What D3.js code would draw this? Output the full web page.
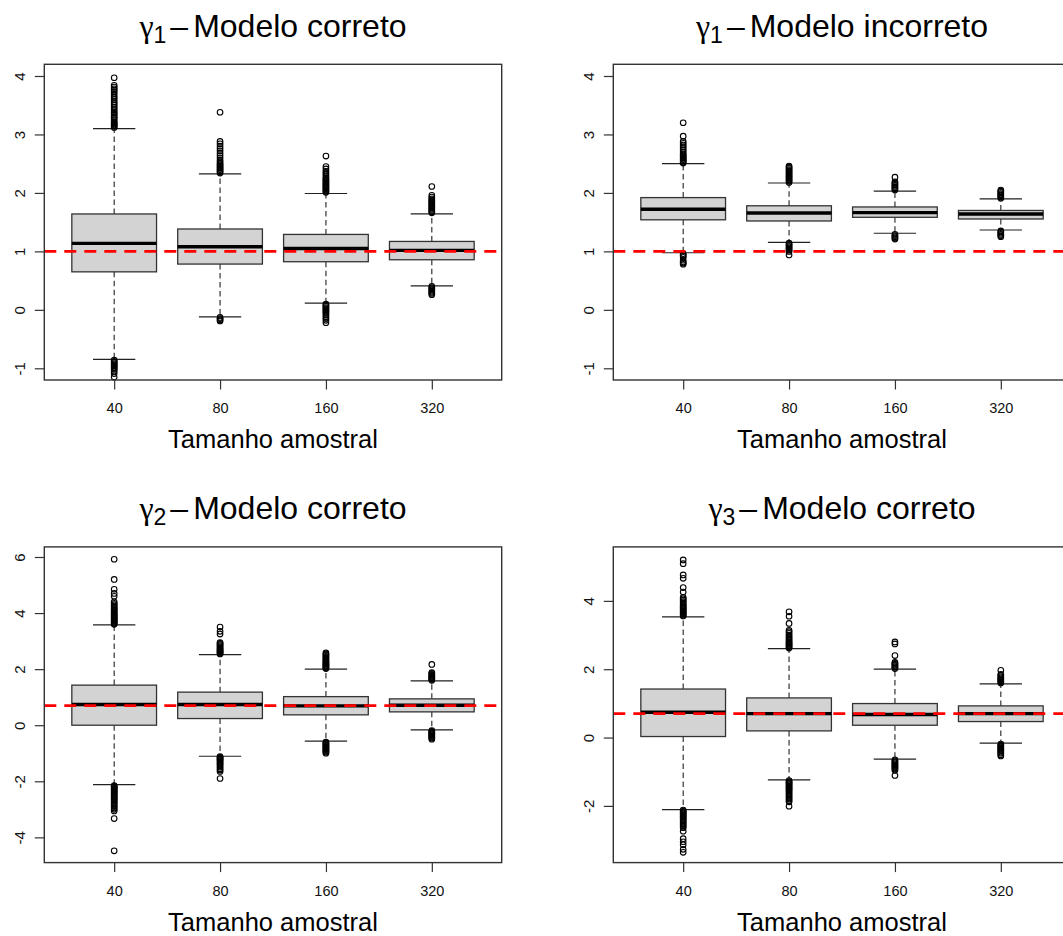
<!DOCTYPE html>
<html>
<head>
<meta charset="utf-8">
<script src="https://cdn.jsdelivr.net/npm/d3@7"></script>
<style>
  html, body { margin: 0; padding: 0; background: #fff; }
  svg { display: block; font-family: "Liberation Sans", Arial, sans-serif; }
</style>
</head>
<body>
<svg id="chart" width="1063" height="936"></svg>
<script>
// Sample sizes on the x axis
const sampleSizes = ["40", "80", "160", "320"];

// Box statistics per sample size: [lower whisker, Q1, median, Q3, upper whisker]
const gamma1CorrectStats = [
  [-0.846, 0.65, 1.137, 1.64, 3.10],
  [-0.12, 0.783, 1.08, 1.383, 2.326],
  [0.114, 0.823, 1.05, 1.29, 1.99],
  [0.41, 0.857, 1.017, 1.17, 1.64]
];
const gamma1CorrectOutliers = [
  [3.12, 3.14, 3.16, 3.18, 3.2, 3.22, 3.25, 3.28, 3.3, 3.33, 3.36, 3.38, 3.41, 3.44, 3.47, 3.5, 3.53, 3.56, 3.6, 3.63, 3.66, 3.7, 3.73, 3.76, 3.78, 3.81, 3.84, 3.97,
   -0.86, -0.88, -0.9, -0.92, -0.94, -0.96, -0.98, -1.0, -1.02, -1.05, -1.09, -1.15],
  [2.34, 2.36, 2.38, 2.4, 2.42, 2.44, 2.46, 2.48, 2.5, 2.53, 2.56, 2.6, 2.64, 2.68, 2.72, 2.76, 2.8, 2.84, 2.88, 3.38,
   -0.13, -0.15, -0.17, -0.19],
  [2.01, 2.03, 2.05, 2.07, 2.09, 2.11, 2.13, 2.15, 2.17, 2.19, 2.21, 2.23, 2.25, 2.28, 2.31, 2.34, 2.37, 2.41, 2.45, 2.63,
   0.1, 0.08, 0.06, 0.04, 0.02, 0.0, -0.02, -0.04, -0.06, -0.09, -0.12, -0.15, -0.18, -0.22],
  [1.66, 1.68, 1.7, 1.72, 1.74, 1.76, 1.78, 1.8, 1.82, 1.84, 1.86, 1.88, 1.9, 1.93, 1.96, 2.11,
   0.4, 0.38, 0.36, 0.34, 0.32, 0.3, 0.28, 0.26]
];

const gamma1WrongStats = [
  [0.977, 1.54, 1.72, 1.92, 2.50],
  [1.154, 1.52, 1.657, 1.78, 2.17],
  [1.31, 1.583, 1.663, 1.76, 2.03],
  [1.366, 1.554, 1.64, 1.70, 1.897]
];
const gamma1WrongOutliers = [
  [2.51, 2.53, 2.55, 2.57, 2.59, 2.61, 2.63, 2.65, 2.67, 2.7, 2.73, 2.76, 2.79, 2.82, 2.85, 2.88, 2.97, 3.2,
   0.96, 0.94, 0.92, 0.9, 0.85, 0.82, 0.8, 0.78],
  [2.18, 2.2, 2.22, 2.24, 2.26, 2.28, 2.3, 2.32, 2.34, 2.36, 2.38, 2.4, 2.42, 2.44, 2.46,
   1.14, 1.12, 1.1, 1.08, 1.06, 1.04, 1.02, 1.0, 0.94],
  [2.05, 2.07, 2.09, 2.11, 2.13, 2.15, 2.17, 2.19, 2.27,
   1.29, 1.27, 1.25, 1.23, 1.21],
  [1.91, 1.93, 1.95, 1.97, 1.99, 2.01, 2.03, 2.05,
   1.35, 1.33, 1.31, 1.29, 1.27, 1.25]
];

const gamma2CorrectStats = [
  [-2.12, 0.0, 0.738, 1.43, 3.58],
  [-1.107, 0.238, 0.738, 1.18, 2.52],
  [-0.57, 0.37, 0.69, 1.02, 2.0],
  [-0.167, 0.476, 0.714, 0.94, 1.58]
];
const gamma2CorrectOutliers = [
  [3.6, 3.63, 3.66, 3.7, 3.73, 3.76, 3.8, 3.83, 3.86, 3.9, 3.93, 3.96, 4.0, 4.04, 4.08, 4.12, 4.16, 4.2, 4.25, 4.3, 4.35, 4.4, 4.6, 4.7, 4.85, 5.2, 5.92,
   -2.15, -2.18, -2.21, -2.25, -2.28, -2.32, -2.35, -2.39, -2.42, -2.46, -2.5, -2.54, -2.58, -2.62, -2.66, -2.7, -2.75, -2.8, -2.85, -2.9, -2.95, -3.0, -3.06, -3.33, -4.48],
  [2.54, 2.57, 2.6, 2.63, 2.66, 2.69, 2.72, 2.76, 2.8, 2.84, 2.88, 2.92, 2.95, 3.25, 3.35, 3.5,
   -1.12, -1.15, -1.18, -1.21, -1.24, -1.28, -1.32, -1.36, -1.4, -1.45, -1.5, -1.55, -1.6, -1.65, -1.9],
  [2.02, 2.05, 2.08, 2.11, 2.14, 2.17, 2.2, 2.23, 2.26, 2.3, 2.34, 2.38, 2.42, 2.46, 2.5, 2.54, 2.58,
   -0.6, -0.63, -0.66, -0.69, -0.72, -0.75, -0.78, -0.81, -0.84, -0.87, -0.9, -0.93, -0.96, -1.0],
  [1.6, 1.63, 1.66, 1.69, 1.72, 1.75, 1.78, 1.81, 1.85, 1.88, 2.17,
   -0.19, -0.22, -0.25, -0.28, -0.31, -0.34, -0.37, -0.4, -0.43, -0.46, -0.5]
];

const gamma3CorrectStats = [
  [-2.107, 0.03, 0.74, 1.42, 3.53],
  [-1.24, 0.195, 0.70, 1.16, 2.6],
  [-0.634, 0.36, 0.673, 0.995, 2.0],
  [-0.166, 0.468, 0.70, 0.927, 1.57]
];
const gamma3CorrectOutliers = [
  [3.56, 3.59, 3.62, 3.65, 3.68, 3.71, 3.74, 3.77, 3.8, 3.83, 3.86, 3.9, 3.94, 3.98, 4.02, 4.06, 4.1, 4.26, 4.39, 4.66, 4.76, 5.09, 5.2,
   -2.12, -2.15, -2.18, -2.21, -2.24, -2.27, -2.3, -2.33, -2.36, -2.4, -2.44, -2.48, -2.52, -2.56, -2.6, -2.64, -2.74, -2.96, -3.05, -3.14, -3.27, -3.36],
  [2.62, 2.65, 2.68, 2.71, 2.74, 2.77, 2.8, 2.84, 2.88, 2.92, 2.96, 3.0, 3.05, 3.1, 3.14, 3.34, 3.55, 3.68,
   -1.26, -1.29, -1.32, -1.35, -1.38, -1.41, -1.44, -1.47, -1.5, -1.53, -1.56, -1.6, -1.64, -1.68, -1.72, -1.76, -1.8, -1.84, -1.88, -2.01],
  [2.02, 2.05, 2.08, 2.11, 2.14, 2.17, 2.2, 2.4, 2.74, 2.8,
   -0.65, -0.68, -0.71, -0.74, -0.77, -0.8, -0.83, -0.86, -0.89, -0.92, -0.96, -1.11],
  [1.6, 1.63, 1.66, 1.69, 1.72, 1.75, 1.78, 1.82, 1.85, 1.97,
   -0.19, -0.22, -0.25, -0.28, -0.31, -0.34, -0.37, -0.4, -0.43, -0.46, -0.5, -0.54]
];

// Y tick values and limits for each panel
const yTicksGamma1 = [-1, 0, 1, 2, 3, 4];
const yTicksGamma2 = [-4, -2, 0, 2, 4, 6];
const yTicksGamma3 = [-2, 0, 2, 4];
const yLimGamma1 = [-1.2, 4.2];
const yLimGamma2 = [-4.9, 6.36];
const yLimGamma3 = [-3.66, 5.58];

// True parameter values (red dashed reference lines)
const trueValues = [1, 1, 0.7, 0.7];

// Panel titles: subscript index and model label
const titleIndex = ["1", "1", "2", "3"];
const titleLabel = ["Modelo correto", "Modelo incorreto", "Modelo correto", "Modelo correto"];
const xAxisTitle = "Tamanho amostral";

const panels = [
  { stats: gamma1CorrectStats, outliers: gamma1CorrectOutliers, ticks: yTicksGamma1, lim: yLimGamma1, col: 0, row: 0 },
  { stats: gamma1WrongStats,   outliers: gamma1WrongOutliers,   ticks: yTicksGamma1, lim: yLimGamma1, col: 1, row: 0 },
  { stats: gamma2CorrectStats, outliers: gamma2CorrectOutliers, ticks: yTicksGamma2, lim: yLimGamma2, col: 0, row: 1 },
  { stats: gamma3CorrectStats, outliers: gamma3CorrectOutliers, ticks: yTicksGamma3, lim: yLimGamma3, col: 1, row: 1 }
];

const svg = d3.select("#chart");

// Plot region geometry
const plotW = 457.4, plotH = 315.7;
const originX = [44.3, 613.3];
const originY = [64.3, 546.9];
const tickLen = 9.5;

panels.forEach((p, i) => {
  const x0 = originX[p.col], y0 = originY[p.row];
  const g = svg.append("g").attr("transform", `translate(${x0},${y0})`);

  const x = d3.scalePoint().domain(sampleSizes).range([0, plotW]).padding(0.66);
  const y = d3.scaleLinear().domain(p.lim).range([plotH, 0]);
  const step = x.step();
  const boxW = 0.8 * step;
  const capW = 0.4 * step;

  const clipId = `clip${i}`;
  g.append("clipPath").attr("id", clipId)
    .append("rect").attr("x", 0).attr("y", 0).attr("width", plotW).attr("height", plotH);

  // Boxes
  const boxes = g.selectAll("g.box").data(sampleSizes.map((s, k) => ({ s, st: p.stats[k], out: p.outliers[k] })))
    .join("g").attr("class", "box");

  boxes.each(function(d) {
    const b = d3.select(this);
    const cx = x(d.s);
    const [lo, q1, med, q3, hi] = d.st;
    // whiskers
    b.append("line").attr("x1", cx).attr("x2", cx).attr("y1", y(q3)).attr("y2", y(hi))
      .attr("stroke", "#222").attr("stroke-width", 1.1).attr("stroke-dasharray", "5.5,3.5");
    b.append("line").attr("x1", cx).attr("x2", cx).attr("y1", y(q1)).attr("y2", y(lo))
      .attr("stroke", "#222").attr("stroke-width", 1.1).attr("stroke-dasharray", "5.5,3.5");
    // caps
    b.append("line").attr("x1", cx - capW / 2).attr("x2", cx + capW / 2).attr("y1", y(hi)).attr("y2", y(hi))
      .attr("stroke", "#222").attr("stroke-width", 1.2);
    b.append("line").attr("x1", cx - capW / 2).attr("x2", cx + capW / 2).attr("y1", y(lo)).attr("y2", y(lo))
      .attr("stroke", "#222").attr("stroke-width", 1.2);
    // box
    b.append("rect").attr("x", cx - boxW / 2).attr("width", boxW)
      .attr("y", y(q3)).attr("height", y(q1) - y(q3))
      .attr("fill", "#d3d3d3").attr("stroke", "#333").attr("stroke-width", 1.3);
    // median
    b.append("line").attr("x1", cx - boxW / 2).attr("x2", cx + boxW / 2).attr("y1", y(med)).attr("y2", y(med))
      .attr("stroke", "#000").attr("stroke-width", 3.4);
    // outliers
    b.selectAll("circle").data(d.out).join("circle")
      .attr("cx", cx).attr("cy", v => y(v)).attr("r", 2.8)
      .attr("fill", "none").attr("stroke", "#000").attr("stroke-width", 1.1);
  });

  // Reference line at the true value
  g.append("line").attr("clip-path", `url(#${clipId})`)
    .attr("x1", 0).attr("x2", plotW).attr("y1", y(trueValues[i])).attr("y2", y(trueValues[i]))
    .attr("stroke", "#ff0000").attr("stroke-width", 2.8).attr("stroke-dasharray", "12,8");

  // Frame
  g.append("rect").attr("x", 0).attr("y", 0).attr("width", plotW).attr("height", plotH)
    .attr("fill", "none").attr("stroke", "#333").attr("stroke-width", 1.4);

  // Y axis with labels parallel to the axis (plain hyphen for negatives)
  const yAxis = g.append("g").call(d3.axisLeft(y).tickValues(p.ticks).tickSize(tickLen).tickFormat(v => String(v)));
  yAxis.select(".domain").remove();
  yAxis.selectAll(".tick line").attr("stroke", "#333").attr("stroke-width", 1.2);
  yAxis.selectAll(".tick text")
    .attr("x", null).attr("dy", "0.36em")
    .attr("text-anchor", "middle")
    .attr("transform", "translate(-25,0) rotate(-90)")
    .attr("font-size", 15).attr("font-family", "Liberation Sans, Arial, sans-serif").attr("fill", "#111");

  // X axis
  const xAxis = g.append("g").attr("transform", `translate(0,${plotH})`)
    .call(d3.axisBottom(x).tickSize(tickLen).tickPadding(0));
  xAxis.select(".domain").remove();
  xAxis.selectAll(".tick line").attr("stroke", "#333").attr("stroke-width", 1.2);
  xAxis.selectAll(".tick text").attr("y", 33.3).attr("dy", 0)
    .attr("font-size", 14.5).attr("font-family", "Liberation Sans, Arial, sans-serif").attr("fill", "#111");

  // X axis title
  g.append("text").attr("x", plotW / 2).attr("y", plotH + 68.3)
    .attr("text-anchor", "middle").attr("font-size", 25.5).attr("fill", "#000")
    .text(xAxisTitle);

  // Panel title: gamma with subscript, minus, label
  const t = g.append("text").attr("x", plotW / 2).attr("y", -27.6)
    .attr("text-anchor", "middle").attr("font-size", 32).attr("fill", "#000");
  t.append("tspan").attr("font-family", "Liberation Serif, serif").text("γ");
  t.append("tspan").attr("font-size", 23).attr("dy", 6).text(titleIndex[i]);
  t.append("tspan").attr("dy", -6).attr("dx", 4).text("–");
  t.append("tspan").attr("dx", 5).text(titleLabel[i]);
});
</script>
</body>
</html>
